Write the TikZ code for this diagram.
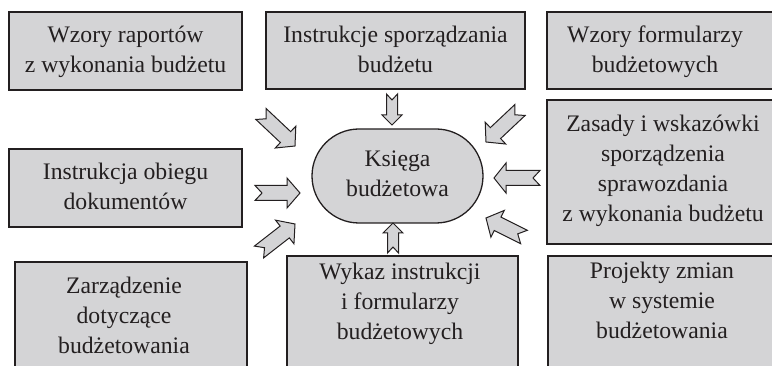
\documentclass[tikz,border=0pt]{standalone}
\usepackage{fontspec}
\setmainfont{Liberation Serif}
\usetikzlibrary{shapes.misc,calc}
\definecolor{boxfill}{RGB}{212,212,214}
\definecolor{ink}{RGB}{35,31,32}
% #1 tail, #2 tip, #3 shaft half width, #4 head half width, #5 head length, #6 notch depth
\newcommand\fatarrow[6]{%
  \coordinate (fah) at ($(#2)!#5!(#1)$);
  \draw[fat] ($(#1)!#3!90:(#2)$) -- ($(fah)!#3!90:(#2)$) -- ($(fah)!#4!90:(#2)$) -- (#2)
    -- ($(fah)!#4!-90:(#2)$) -- ($(fah)!#3!-90:(#2)$) -- ($(#1)!#3!-90:(#2)$)
    -- ($(#1)!#6!(#2)$) -- cycle;
}
\begin{document}
\begin{tikzpicture}[x=1pt,y=-1pt,
  box/.style={draw=ink, line width=1.6pt, fill=boxfill, rectangle, anchor=north west, inner sep=0pt, outer sep=0pt},
  txt/.style={align=center, text=ink, font=\fontsize{23.7}{30}\selectfont, inner sep=0pt},
  core/.style={draw=ink, line width=1.3pt, fill=boxfill, rounded rectangle, minimum width=171pt, minimum height=94pt, inner sep=0pt, align=center, text=ink, font=\fontsize{23.7}{30}\selectfont},
  fat/.style={draw=ink, line width=1pt, fill=boxfill, line join=miter}
]
\useasboundingbox (0,0) rectangle (772,366);
\clip (0,0) rectangle (772,366);

% boxes
\node[box, minimum width=233pt, minimum height=78pt] (b1) at (9,12) {};
\node[box, minimum width=259pt, minimum height=77pt] (b2) at (266,12) {};
\node[box, minimum width=240pt, minimum height=77pt] (b3) at (547,12) {};
\node[box, minimum width=240pt, minimum height=144pt] (b4) at (547,100) {};
\node[box, minimum width=233pt, minimum height=78pt] (b5) at (9,149) {};
\node[box, minimum width=232pt, minimum height=120pt] (b6) at (15,262) {};
\node[box, minimum width=231pt, minimum height=120pt] (b7) at (287,256) {};
\node[box, minimum width=240pt, minimum height=120pt] (b8) at (548,256) {};

% texts
\node[txt] (t1) at (125.5,52) {\strut Wzory raportów\\\strut z wykonania budżetu};
\node[txt] (t2) at (395.5,52) {\strut Instrukcje sporządzania\\\strut budżetu};
\node[txt] (t3) at (655,52) {\strut Wzory formularzy\\\strut budżetowych};
\node[txt] (t4) at (663,171) {\strut Zasady i wskazówki\\\strut sporządzenia\\\strut sprawozdania\\\strut z wykonania budżetu};
\node[txt] (t5) at (125.5,189) {\strut Instrukcja obiegu\\\strut dokumentów};
\node[txt] (t6) at (124,318) {\strut Zarządzenie\\\strut dotyczące\\\strut budżetowania};
\node[txt] (t7) at (400,304) {\strut Wykaz instrukcji\\\strut i formularzy\\\strut budżetowych};
\node[txt] (t8) at (662,303) {\strut Projekty zmian\\\strut w systemie\\\strut budżetowania};

% centre
\node[core] (c) at (397.5,176) {\strut Księga\\\strut budżetowa};

% arrow end points
\coordinate (a1s) at (392,94);  \coordinate (a1e) at (392,125);
\coordinate (a2s) at (393,253); \coordinate (a2e) at (393,223);
\coordinate (a3s) at (255,193); \coordinate (a3e) at (300,193);
\coordinate (a4s) at (540,178); \coordinate (a4e) at (494,178);
\coordinate (a5s) at (261,114); \coordinate (a5e) at (295,146);
\coordinate (a6s) at (259,252); \coordinate (a6e) at (295,224);
\coordinate (a7s) at (520,110); \coordinate (a7e) at (486,142);
\coordinate (a8s) at (524,237); \coordinate (a8e) at (486,218);

\fatarrow{a1s}{a1e}{5.5pt}{10pt}{10pt}{6pt}
\fatarrow{a2s}{a2e}{5.5pt}{10pt}{10pt}{6pt}
\fatarrow{a3s}{a3e}{7.5pt}{15pt}{13pt}{7pt}
\fatarrow{a4s}{a4e}{7.5pt}{15pt}{12pt}{7pt}
\fatarrow{a5s}{a5e}{7.5pt}{15pt}{13pt}{7pt}
\fatarrow{a6s}{a6e}{7.5pt}{15pt}{13pt}{7pt}
\fatarrow{a7s}{a7e}{7.5pt}{15pt}{13pt}{7pt}
\fatarrow{a8s}{a8e}{7.5pt}{15pt}{13pt}{7pt}
\end{tikzpicture}
\end{document}
